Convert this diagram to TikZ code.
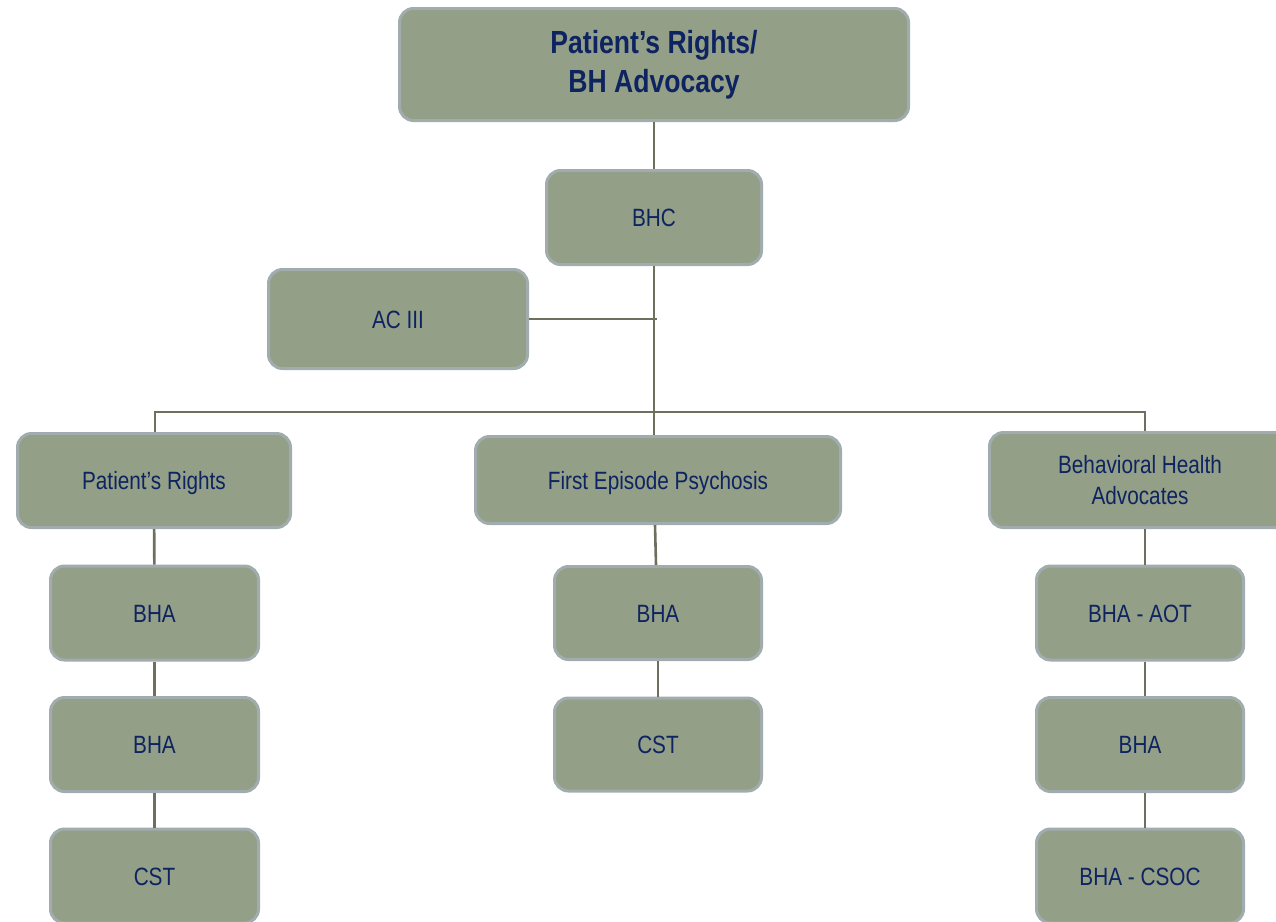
\documentclass[tikz,border=0pt]{standalone}
\usepackage{fontspec}
\setmainfont{Liberation Sans}[FakeStretch=0.83]
\usepackage{tikz}
\definecolor{boxfill}{HTML}{949F87}
\definecolor{boxedge}{HTML}{A1ACAF}
\definecolor{navytext}{HTML}{0E2461}
\definecolor{linkgray}{HTML}{6C715E}
\tikzset{
	orgbox/.style={draw=boxedge, fill=boxfill, line width=3pt, rounded corners=14pt,
		text=navytext, align=center, inner sep=0pt, font=\fontsize{25}{31}\selectfont},
	unitbox/.style={orgbox, text height=18pt, text depth=0pt},
	link/.style={draw=linkgray, line width=2.6pt}
}

\begin{document}
\begin{tikzpicture}[x=1pt, y=-1pt]
				\useasboundingbox (0, 0) rectangle (1276, 921);
				\clip (0, 0) rectangle (1276, 921);
				
				% top and coordinator
				\node[orgbox, minimum width=509, minimum height=112, font=\bfseries\fontsize{32}{39}\selectfont] (top) at (654, 64.5) {Patient’s Rights/\\BH Advocacy};
				\node[unitbox, minimum width=215, minimum height=94] (bhc) at (654, 217.5) {BHC};
				\node[unitbox, minimum width=259, minimum height=99] (ac) at (398, 319) {AC III};
				
				% programs
				\node[unitbox, minimum width=273, minimum height=94] (pr) at (154, 480.5) {Patient’s Rights};
				\node[unitbox, minimum width=365, minimum height=87] (fep) at (658, 480) {First Episode Psychosis};
				\node[orgbox, minimum width=301, minimum height=95] (bhadv) at (1140, 480) {Behavioral Health\\Advocates};
				
				% staff
				\node[unitbox, minimum width=208, minimum height=94] (prbha) at (154.5, 613) {BHA};
				\node[unitbox, minimum width=208, minimum height=94] (prbhb) at (154.5, 744.5) {BHA};
				\node[unitbox, minimum width=208, minimum height=94] (prcst) at (154.5, 876) {CST};
				
				\node[unitbox, minimum width=207, minimum height=93] (fepbha) at (658, 613) {BHA};
				\node[unitbox, minimum width=207, minimum height=93] (fepcst) at (658, 744.5) {CST};
				
				\node[unitbox, minimum width=207, minimum height=94] (aot) at (1140, 613) {BHA - AOT};
				\node[unitbox, minimum width=207, minimum height=94] (advbha) at (1140, 744.5) {BHA};
				\node[unitbox, minimum width=207, minimum height=94] (csoc) at (1140, 876) {BHA - CSOC};
				
				\coordinate (acend) at (657, 319);
				\coordinate (busl) at (155, 412);
				\coordinate (busr) at (1145, 412);
				
				\draw[link] (top.south) -- (bhc.north);
				\draw[link] (bhc.south) -- (bhc.south |- fep.north);
				\draw[link] (ac.east) -- (acend);
				\draw[link] (pr.north -| busl) -- (busl) -- (busr) -- (bhadv.north -| busr);
				
				\draw[link] (pr) -- (prbha);
				\draw[link] (prbha) -- (prbhb);
				\draw[link] (prbhb) -- (prcst);
				\draw[link] (fep.south -| 655, 0) -- (fepbha.north -| 656, 0);
				\draw[link] (fepbha) -- (fepcst);
				\draw[link] (bhadv.south -| busr) -- (aot.north -| busr);
				\draw[link] (aot.south -| busr) -- (advbha.north -| busr);
				\draw[link] (advbha.south -| busr) -- (csoc.north -| busr);
			\end{tikzpicture}
\end{document}
